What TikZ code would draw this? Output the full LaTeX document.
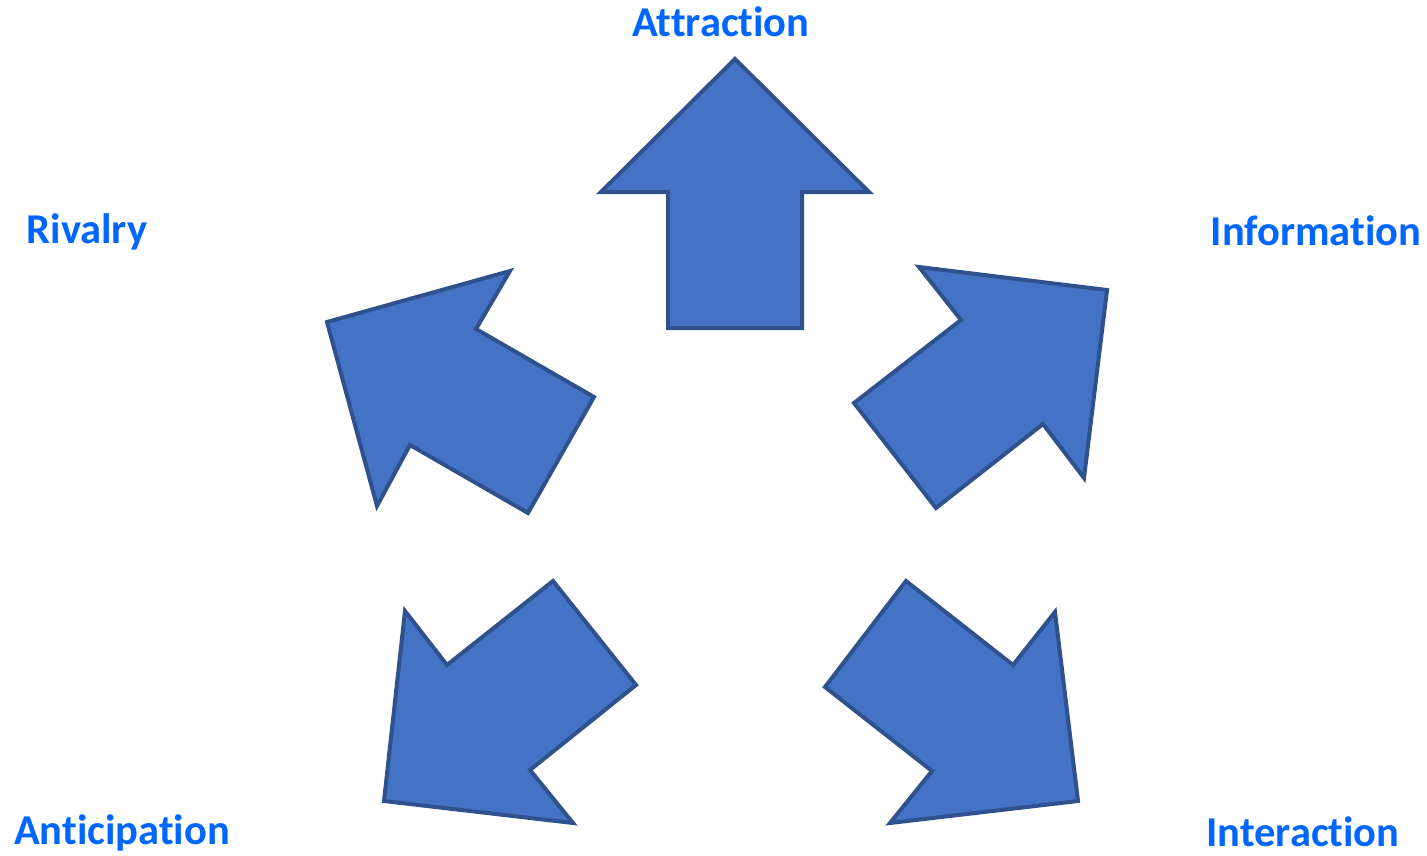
\documentclass[tikz,border=0pt]{standalone}
\usepackage{fontspec}
\setmainfont[Ligatures=NoCommon]{Carlito}
\definecolor{arrfill}{HTML}{4472C4}
\definecolor{arrline}{HTML}{2F528F}
\definecolor{lbl}{HTML}{0066FF}
\begin{document}
\begin{tikzpicture}[x=1pt,y=-1pt,
  arr/.style={fill=arrfill,draw=arrline,line width=4pt,line join=miter},
  lab/.style={text=lbl,font=\fontsize{42.5}{44}\selectfont\bfseries,inner sep=0pt}]
\useasboundingbox (0,0) rectangle (1427,856);
% Attraction arrow
\draw[arr] (735,59) -- (869,192) -- (802,192) -- (802,328) -- (668,328) -- (668,192) -- (601,192) -- cycle;
% Rivalry arrow
\draw[arr] (327,322) -- (510,271) -- (476,329) -- (594,397) -- (528,513) -- (410,445) -- (377,506) -- cycle;
% Information arrow
\draw[arr] (919,267) -- (1107,290) -- (1084,478) -- (1043,424) -- (936,508) -- (854,403) -- (961,320) -- cycle;
% Anticipation arrow
\draw[arr] (553,581) -- (636,685) -- (530,770) -- (573,823) -- (384,801) -- (405,611) -- (447,665) -- cycle;
% Interaction arrow
\draw[arr] (906,581) -- (1013,665) -- (1055,612) -- (1078,801) -- (890,823) -- (932,771) -- (825,687) -- cycle;
\node[lab] (attr) at (721,22) {Attraction};
\node[lab] (riv) at (87,232) {Rivalry};
\node[lab] (info) at (1316,231) {Information};
\node[lab] (anti) at (122,833) {Anticipation};
\node[lab] (inter) at (1303,832) {Interaction};
\end{tikzpicture}
\end{document}
